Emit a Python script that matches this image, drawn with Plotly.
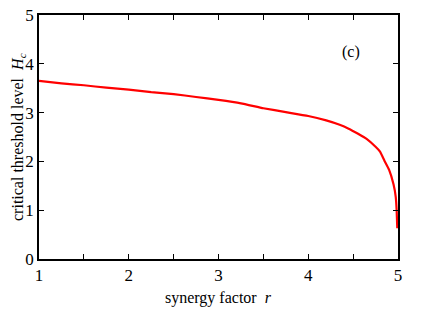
import plotly.graph_objects as go

r_vals = [1.0, 1.25, 1.5, 1.75, 2.0, 2.25, 2.5, 2.75, 3.0, 3.25, 3.5, 3.75, 4.0,
          4.2, 4.35, 4.45, 4.55, 4.65, 4.75, 4.8, 4.85, 4.9, 4.95, 4.975, 4.985, 4.992]
H_vals = [3.65, 3.60, 3.56, 3.51, 3.47, 3.42, 3.38, 3.32, 3.26, 3.19, 3.09, 3.01, 2.93,
          2.84, 2.75, 2.67, 2.57, 2.46, 2.30, 2.20, 2.01, 1.83, 1.53, 1.27, 1.00, 0.63]

x_tickvals = [1, 2, 3, 4, 5]
y_tickvals = [0, 1, 2, 3, 4, 5]

font_family = "Liberation Serif, Times New Roman, serif"

fig = go.Figure()
fig.add_trace(go.Scatter(x=r_vals, y=H_vals, mode="lines",
                         line=dict(color="#ff0000", width=2.2, shape="spline", smoothing=0.4),
                         showlegend=False, hoverinfo="skip"))

axis_common = dict(showline=True, linecolor="black", linewidth=1.5, mirror="ticks",
                   ticks="inside", ticklen=5, tickwidth=1.2, tickcolor="black",
                   showgrid=False, zeroline=False, automargin=False,
                   ticklabeloverflow="allow",
                   tickfont=dict(family=font_family, size=17, color="black"))

fig.update_layout(
    width=436, height=309,
    margin=dict(l=39, r=38, t=15, b=50),
    paper_bgcolor="white", plot_bgcolor="white",
    font=dict(family=font_family, size=16, color="black"),
    xaxis=dict(range=[1, 5], tickmode="array", tickvals=x_tickvals,
               minor=dict(tickmode="linear", tick0=1, dtick=0.5, ticks="inside", ticklen=5,
                          tickwidth=1.2, tickcolor="black", showgrid=False),
               **axis_common),
    yaxis=dict(range=[0, 5], tickmode="array", tickvals=y_tickvals, **axis_common),
    annotations=[
        dict(text="(c)", x=0.90, y=0.893, xref="paper", yref="paper",
             showarrow=False, font=dict(family=font_family, size=16)),
        dict(text="synergy factor  <i>r</i>", x=0.5, y=-0.16, xref="paper", yref="paper",
             xanchor="center", yanchor="middle", showarrow=False,
             font=dict(family=font_family, size=16)),
        dict(text="critical threshold level  <i>H<sub>c</sub></i>", x=-0.0585, y=0.5,
             xref="paper", yref="paper", xanchor="center", yanchor="middle",
             textangle=-90, showarrow=False, font=dict(family=font_family, size=16)),
    ],
)

fig.write_html("out.html",
               config={"displayModeBar": False},
               post_script="document.body.style.margin='0';document.body.style.overflow='hidden';")
